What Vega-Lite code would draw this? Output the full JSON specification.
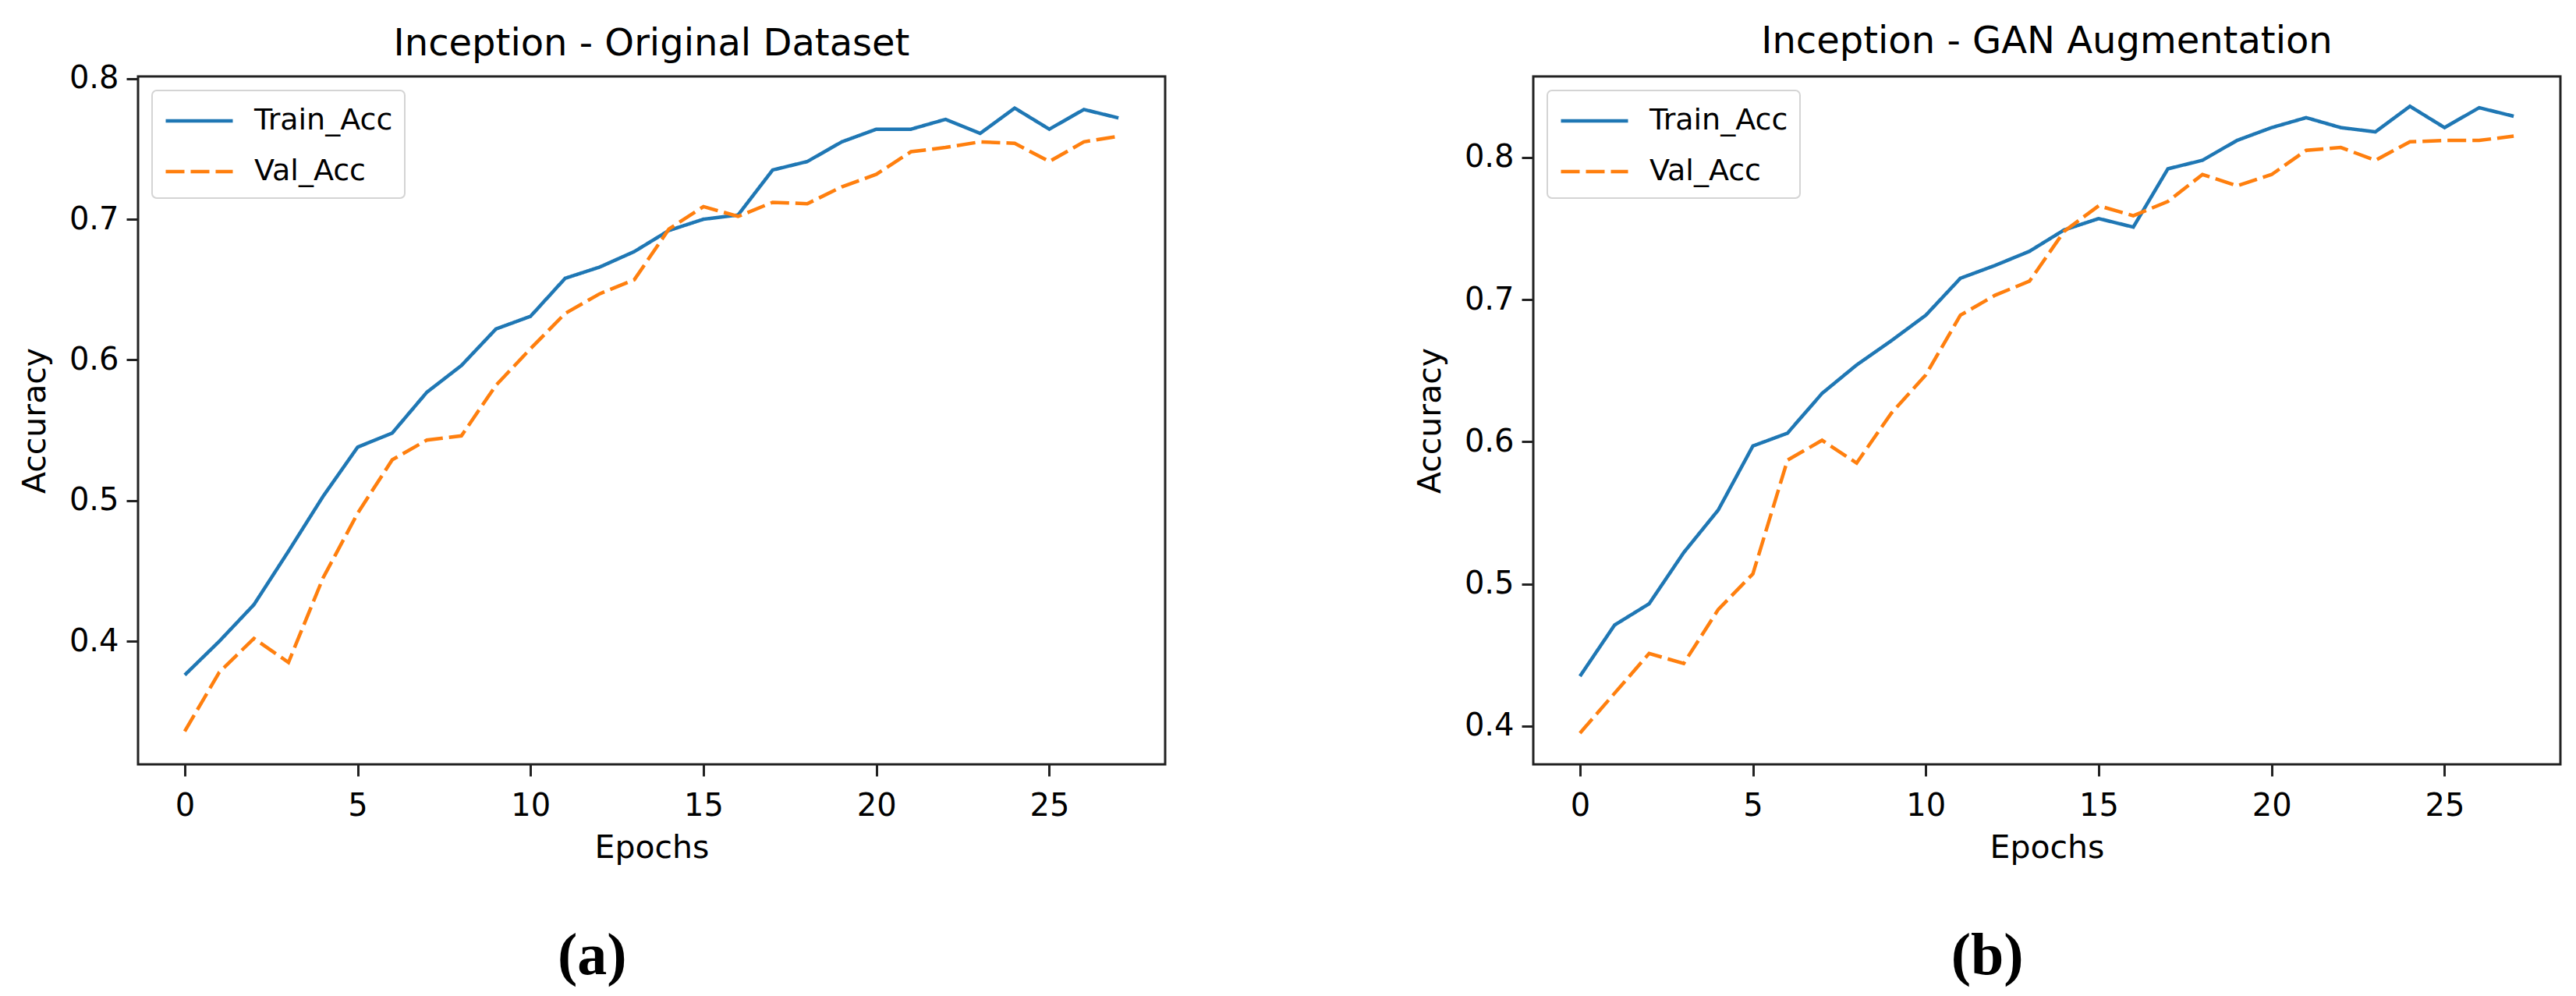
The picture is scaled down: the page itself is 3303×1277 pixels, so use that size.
{
  "$schema": "https://vega.github.io/schema/vega-lite/v6.json",
  "background": "white",
  "padding": {"left": 22, "top": 28, "right": 5, "bottom": 5},
  "config": {
    "font": "DejaVu Sans",
    "view": {"stroke": "#222222", "strokeWidth": 3},
    "axis": {
      "domain": false,
      "grid": false,
      "tickColor": "#222222",
      "tickWidth": 3,
      "tickSize": 15,
      "labelColor": "#000000",
      "labelFont": "DejaVu Sans",
      "labelFontSize": 40,
      "labelPadding": 10,
      "titleColor": "#000000",
      "titleFont": "DejaVu Sans",
      "titleFontSize": 41,
      "titleFontWeight": "normal"
    },
    "axisX": {"labelPadding": 18},
    "legend": {
      "title": null,
      "orient": "top-left",
      "offset": 18,
      "symbolType": "M-1,0H3",
      "symbolSize": 1849,
      "symbolStrokeWidth": 4.5,
      "labelFont": "DejaVu Sans",
      "labelFontSize": 38,
      "labelColor": "#000000",
      "labelLimit": 600,
      "labelOffset": 68,
      "strokeColor": "#d4d4d4",
      "strokeWidth": 2,
      "fillColor": "#ffffff",
      "cornerRadius": 6,
      "padding": 15,
      "rowPadding": 22
    }
  },
  "datasets": {
    "acc": [
      {"panel": "a", "series": "Train_Acc", "epoch": 0, "acc": 0.376},
      {"panel": "a", "series": "Train_Acc", "epoch": 1, "acc": 0.400},
      {"panel": "a", "series": "Train_Acc", "epoch": 2, "acc": 0.426},
      {"panel": "a", "series": "Train_Acc", "epoch": 3, "acc": 0.464},
      {"panel": "a", "series": "Train_Acc", "epoch": 4, "acc": 0.503},
      {"panel": "a", "series": "Train_Acc", "epoch": 5, "acc": 0.538},
      {"panel": "a", "series": "Train_Acc", "epoch": 6, "acc": 0.548},
      {"panel": "a", "series": "Train_Acc", "epoch": 7, "acc": 0.577},
      {"panel": "a", "series": "Train_Acc", "epoch": 8, "acc": 0.596},
      {"panel": "a", "series": "Train_Acc", "epoch": 9, "acc": 0.622},
      {"panel": "a", "series": "Train_Acc", "epoch": 10, "acc": 0.631},
      {"panel": "a", "series": "Train_Acc", "epoch": 11, "acc": 0.658},
      {"panel": "a", "series": "Train_Acc", "epoch": 12, "acc": 0.666},
      {"panel": "a", "series": "Train_Acc", "epoch": 13, "acc": 0.677},
      {"panel": "a", "series": "Train_Acc", "epoch": 14, "acc": 0.692},
      {"panel": "a", "series": "Train_Acc", "epoch": 15, "acc": 0.700},
      {"panel": "a", "series": "Train_Acc", "epoch": 16, "acc": 0.703},
      {"panel": "a", "series": "Train_Acc", "epoch": 17, "acc": 0.735},
      {"panel": "a", "series": "Train_Acc", "epoch": 18, "acc": 0.741},
      {"panel": "a", "series": "Train_Acc", "epoch": 19, "acc": 0.755},
      {"panel": "a", "series": "Train_Acc", "epoch": 20, "acc": 0.764},
      {"panel": "a", "series": "Train_Acc", "epoch": 21, "acc": 0.764},
      {"panel": "a", "series": "Train_Acc", "epoch": 22, "acc": 0.771},
      {"panel": "a", "series": "Train_Acc", "epoch": 23, "acc": 0.761},
      {"panel": "a", "series": "Train_Acc", "epoch": 24, "acc": 0.779},
      {"panel": "a", "series": "Train_Acc", "epoch": 25, "acc": 0.764},
      {"panel": "a", "series": "Train_Acc", "epoch": 26, "acc": 0.778},
      {"panel": "a", "series": "Train_Acc", "epoch": 27, "acc": 0.772},
      {"panel": "a", "series": "Val_Acc", "epoch": 0, "acc": 0.336},
      {"panel": "a", "series": "Val_Acc", "epoch": 1, "acc": 0.378},
      {"panel": "a", "series": "Val_Acc", "epoch": 2, "acc": 0.402},
      {"panel": "a", "series": "Val_Acc", "epoch": 3, "acc": 0.385},
      {"panel": "a", "series": "Val_Acc", "epoch": 4, "acc": 0.445},
      {"panel": "a", "series": "Val_Acc", "epoch": 5, "acc": 0.491},
      {"panel": "a", "series": "Val_Acc", "epoch": 6, "acc": 0.529},
      {"panel": "a", "series": "Val_Acc", "epoch": 7, "acc": 0.543},
      {"panel": "a", "series": "Val_Acc", "epoch": 8, "acc": 0.546},
      {"panel": "a", "series": "Val_Acc", "epoch": 9, "acc": 0.582},
      {"panel": "a", "series": "Val_Acc", "epoch": 10, "acc": 0.608},
      {"panel": "a", "series": "Val_Acc", "epoch": 11, "acc": 0.633},
      {"panel": "a", "series": "Val_Acc", "epoch": 12, "acc": 0.647},
      {"panel": "a", "series": "Val_Acc", "epoch": 13, "acc": 0.657},
      {"panel": "a", "series": "Val_Acc", "epoch": 14, "acc": 0.693},
      {"panel": "a", "series": "Val_Acc", "epoch": 15, "acc": 0.709},
      {"panel": "a", "series": "Val_Acc", "epoch": 16, "acc": 0.702},
      {"panel": "a", "series": "Val_Acc", "epoch": 17, "acc": 0.712},
      {"panel": "a", "series": "Val_Acc", "epoch": 18, "acc": 0.711},
      {"panel": "a", "series": "Val_Acc", "epoch": 19, "acc": 0.723},
      {"panel": "a", "series": "Val_Acc", "epoch": 20, "acc": 0.732},
      {"panel": "a", "series": "Val_Acc", "epoch": 21, "acc": 0.748},
      {"panel": "a", "series": "Val_Acc", "epoch": 22, "acc": 0.751},
      {"panel": "a", "series": "Val_Acc", "epoch": 23, "acc": 0.755},
      {"panel": "a", "series": "Val_Acc", "epoch": 24, "acc": 0.754},
      {"panel": "a", "series": "Val_Acc", "epoch": 25, "acc": 0.741},
      {"panel": "a", "series": "Val_Acc", "epoch": 26, "acc": 0.755},
      {"panel": "a", "series": "Val_Acc", "epoch": 27, "acc": 0.759},
      {"panel": "b", "series": "Train_Acc", "epoch": 0, "acc": 0.435},
      {"panel": "b", "series": "Train_Acc", "epoch": 1, "acc": 0.471},
      {"panel": "b", "series": "Train_Acc", "epoch": 2, "acc": 0.486},
      {"panel": "b", "series": "Train_Acc", "epoch": 3, "acc": 0.522},
      {"panel": "b", "series": "Train_Acc", "epoch": 4, "acc": 0.552},
      {"panel": "b", "series": "Train_Acc", "epoch": 5, "acc": 0.597},
      {"panel": "b", "series": "Train_Acc", "epoch": 6, "acc": 0.606},
      {"panel": "b", "series": "Train_Acc", "epoch": 7, "acc": 0.634},
      {"panel": "b", "series": "Train_Acc", "epoch": 8, "acc": 0.654},
      {"panel": "b", "series": "Train_Acc", "epoch": 9, "acc": 0.671},
      {"panel": "b", "series": "Train_Acc", "epoch": 10, "acc": 0.689},
      {"panel": "b", "series": "Train_Acc", "epoch": 11, "acc": 0.715},
      {"panel": "b", "series": "Train_Acc", "epoch": 12, "acc": 0.724},
      {"panel": "b", "series": "Train_Acc", "epoch": 13, "acc": 0.734},
      {"panel": "b", "series": "Train_Acc", "epoch": 14, "acc": 0.749},
      {"panel": "b", "series": "Train_Acc", "epoch": 15, "acc": 0.757},
      {"panel": "b", "series": "Train_Acc", "epoch": 16, "acc": 0.751},
      {"panel": "b", "series": "Train_Acc", "epoch": 17, "acc": 0.792},
      {"panel": "b", "series": "Train_Acc", "epoch": 18, "acc": 0.798},
      {"panel": "b", "series": "Train_Acc", "epoch": 19, "acc": 0.812},
      {"panel": "b", "series": "Train_Acc", "epoch": 20, "acc": 0.821},
      {"panel": "b", "series": "Train_Acc", "epoch": 21, "acc": 0.828},
      {"panel": "b", "series": "Train_Acc", "epoch": 22, "acc": 0.821},
      {"panel": "b", "series": "Train_Acc", "epoch": 23, "acc": 0.818},
      {"panel": "b", "series": "Train_Acc", "epoch": 24, "acc": 0.836},
      {"panel": "b", "series": "Train_Acc", "epoch": 25, "acc": 0.821},
      {"panel": "b", "series": "Train_Acc", "epoch": 26, "acc": 0.835},
      {"panel": "b", "series": "Train_Acc", "epoch": 27, "acc": 0.829},
      {"panel": "b", "series": "Val_Acc", "epoch": 0, "acc": 0.395},
      {"panel": "b", "series": "Val_Acc", "epoch": 1, "acc": 0.423},
      {"panel": "b", "series": "Val_Acc", "epoch": 2, "acc": 0.451},
      {"panel": "b", "series": "Val_Acc", "epoch": 3, "acc": 0.444},
      {"panel": "b", "series": "Val_Acc", "epoch": 4, "acc": 0.482},
      {"panel": "b", "series": "Val_Acc", "epoch": 5, "acc": 0.507},
      {"panel": "b", "series": "Val_Acc", "epoch": 6, "acc": 0.587},
      {"panel": "b", "series": "Val_Acc", "epoch": 7, "acc": 0.601},
      {"panel": "b", "series": "Val_Acc", "epoch": 8, "acc": 0.585},
      {"panel": "b", "series": "Val_Acc", "epoch": 9, "acc": 0.620},
      {"panel": "b", "series": "Val_Acc", "epoch": 10, "acc": 0.647},
      {"panel": "b", "series": "Val_Acc", "epoch": 11, "acc": 0.689},
      {"panel": "b", "series": "Val_Acc", "epoch": 12, "acc": 0.703},
      {"panel": "b", "series": "Val_Acc", "epoch": 13, "acc": 0.713},
      {"panel": "b", "series": "Val_Acc", "epoch": 14, "acc": 0.748},
      {"panel": "b", "series": "Val_Acc", "epoch": 15, "acc": 0.766},
      {"panel": "b", "series": "Val_Acc", "epoch": 16, "acc": 0.759},
      {"panel": "b", "series": "Val_Acc", "epoch": 17, "acc": 0.769},
      {"panel": "b", "series": "Val_Acc", "epoch": 18, "acc": 0.788},
      {"panel": "b", "series": "Val_Acc", "epoch": 19, "acc": 0.780},
      {"panel": "b", "series": "Val_Acc", "epoch": 20, "acc": 0.788},
      {"panel": "b", "series": "Val_Acc", "epoch": 21, "acc": 0.805},
      {"panel": "b", "series": "Val_Acc", "epoch": 22, "acc": 0.807},
      {"panel": "b", "series": "Val_Acc", "epoch": 23, "acc": 0.798},
      {"panel": "b", "series": "Val_Acc", "epoch": 24, "acc": 0.811},
      {"panel": "b", "series": "Val_Acc", "epoch": 25, "acc": 0.812},
      {"panel": "b", "series": "Val_Acc", "epoch": 26, "acc": 0.812},
      {"panel": "b", "series": "Val_Acc", "epoch": 27, "acc": 0.815}
    ]
  },
  "spacing": 315,
  "hconcat": [
    {
      "title": {"text": "(a)", "orient": "bottom", "font": "Liberation Serif", "fontSize": 76, "fontWeight": "bold", "color": "#000000", "offset": 80, "anchor": "middle"},
      "vconcat": [
        {
          "title": {"text": "Inception - Original Dataset", "font": "DejaVu Sans", "fontSize": 48, "fontWeight": "normal", "color": "#000000", "offset": 0},
          "width": 1317,
          "height": 882,
          "data": {"name": "acc"},
          "transform": [{"filter": "datum.panel === 'a'"}],
          "mark": {"type": "line", "strokeWidth": 4.5},
          "encoding": {
            "x": {"field": "epoch", "type": "quantitative", "scale": {"domain": [-1.35, 28.35], "nice": false, "zero": false}, "axis": {"values": [0, 5, 10, 15, 20, 25], "title": "Epochs", "titlePadding": 14}},
            "y": {"field": "acc", "type": "quantitative", "scale": {"domain": [0.3125, 0.8015], "nice": false, "zero": false}, "axis": {"values": [0.4, 0.5, 0.6, 0.7, 0.8], "format": ".1f", "title": "Accuracy", "titlePadding": 22}},
            "color": {"field": "series", "type": "nominal", "scale": {"domain": ["Train_Acc", "Val_Acc"], "range": ["#1f77b4", "#ff7f0e"]}},
            "strokeDash": {"field": "series", "type": "nominal", "scale": {"domain": ["Train_Acc", "Val_Acc"], "range": [[1, 0], [24, 8]]}}
          }
        }
      ]
    },
    {
      "title": {"text": "(b)", "orient": "bottom", "font": "Liberation Serif", "fontSize": 76, "fontWeight": "bold", "color": "#000000", "offset": 80, "anchor": "middle"},
      "vconcat": [
        {
          "title": {"text": "Inception - GAN Augmentation", "font": "DejaVu Sans", "fontSize": 48, "fontWeight": "normal", "color": "#000000", "offset": 20},
          "width": 1317,
          "height": 882,
          "data": {"name": "acc"},
          "transform": [{"filter": "datum.panel === 'b'"}],
          "mark": {"type": "line", "strokeWidth": 4.5},
          "encoding": {
            "x": {"field": "epoch", "type": "quantitative", "scale": {"domain": [-1.35, 28.35], "nice": false, "zero": false}, "axis": {"values": [0, 5, 10, 15, 20, 25], "title": "Epochs", "titlePadding": 14}},
            "y": {"field": "acc", "type": "quantitative", "scale": {"domain": [0.373, 0.857], "nice": false, "zero": false}, "axis": {"values": [0.4, 0.5, 0.6, 0.7, 0.8], "format": ".1f", "title": "Accuracy", "titlePadding": 22}},
            "color": {"field": "series", "type": "nominal", "scale": {"domain": ["Train_Acc", "Val_Acc"], "range": ["#1f77b4", "#ff7f0e"]}},
            "strokeDash": {"field": "series", "type": "nominal", "scale": {"domain": ["Train_Acc", "Val_Acc"], "range": [[1, 0], [24, 8]]}}
          }
        }
      ]
    }
  ],
  "resolve": {"scale": {"color": "independent", "strokeDash": "independent", "y": "independent"}, "legend": {"color": "independent", "strokeDash": "independent"}}
}
